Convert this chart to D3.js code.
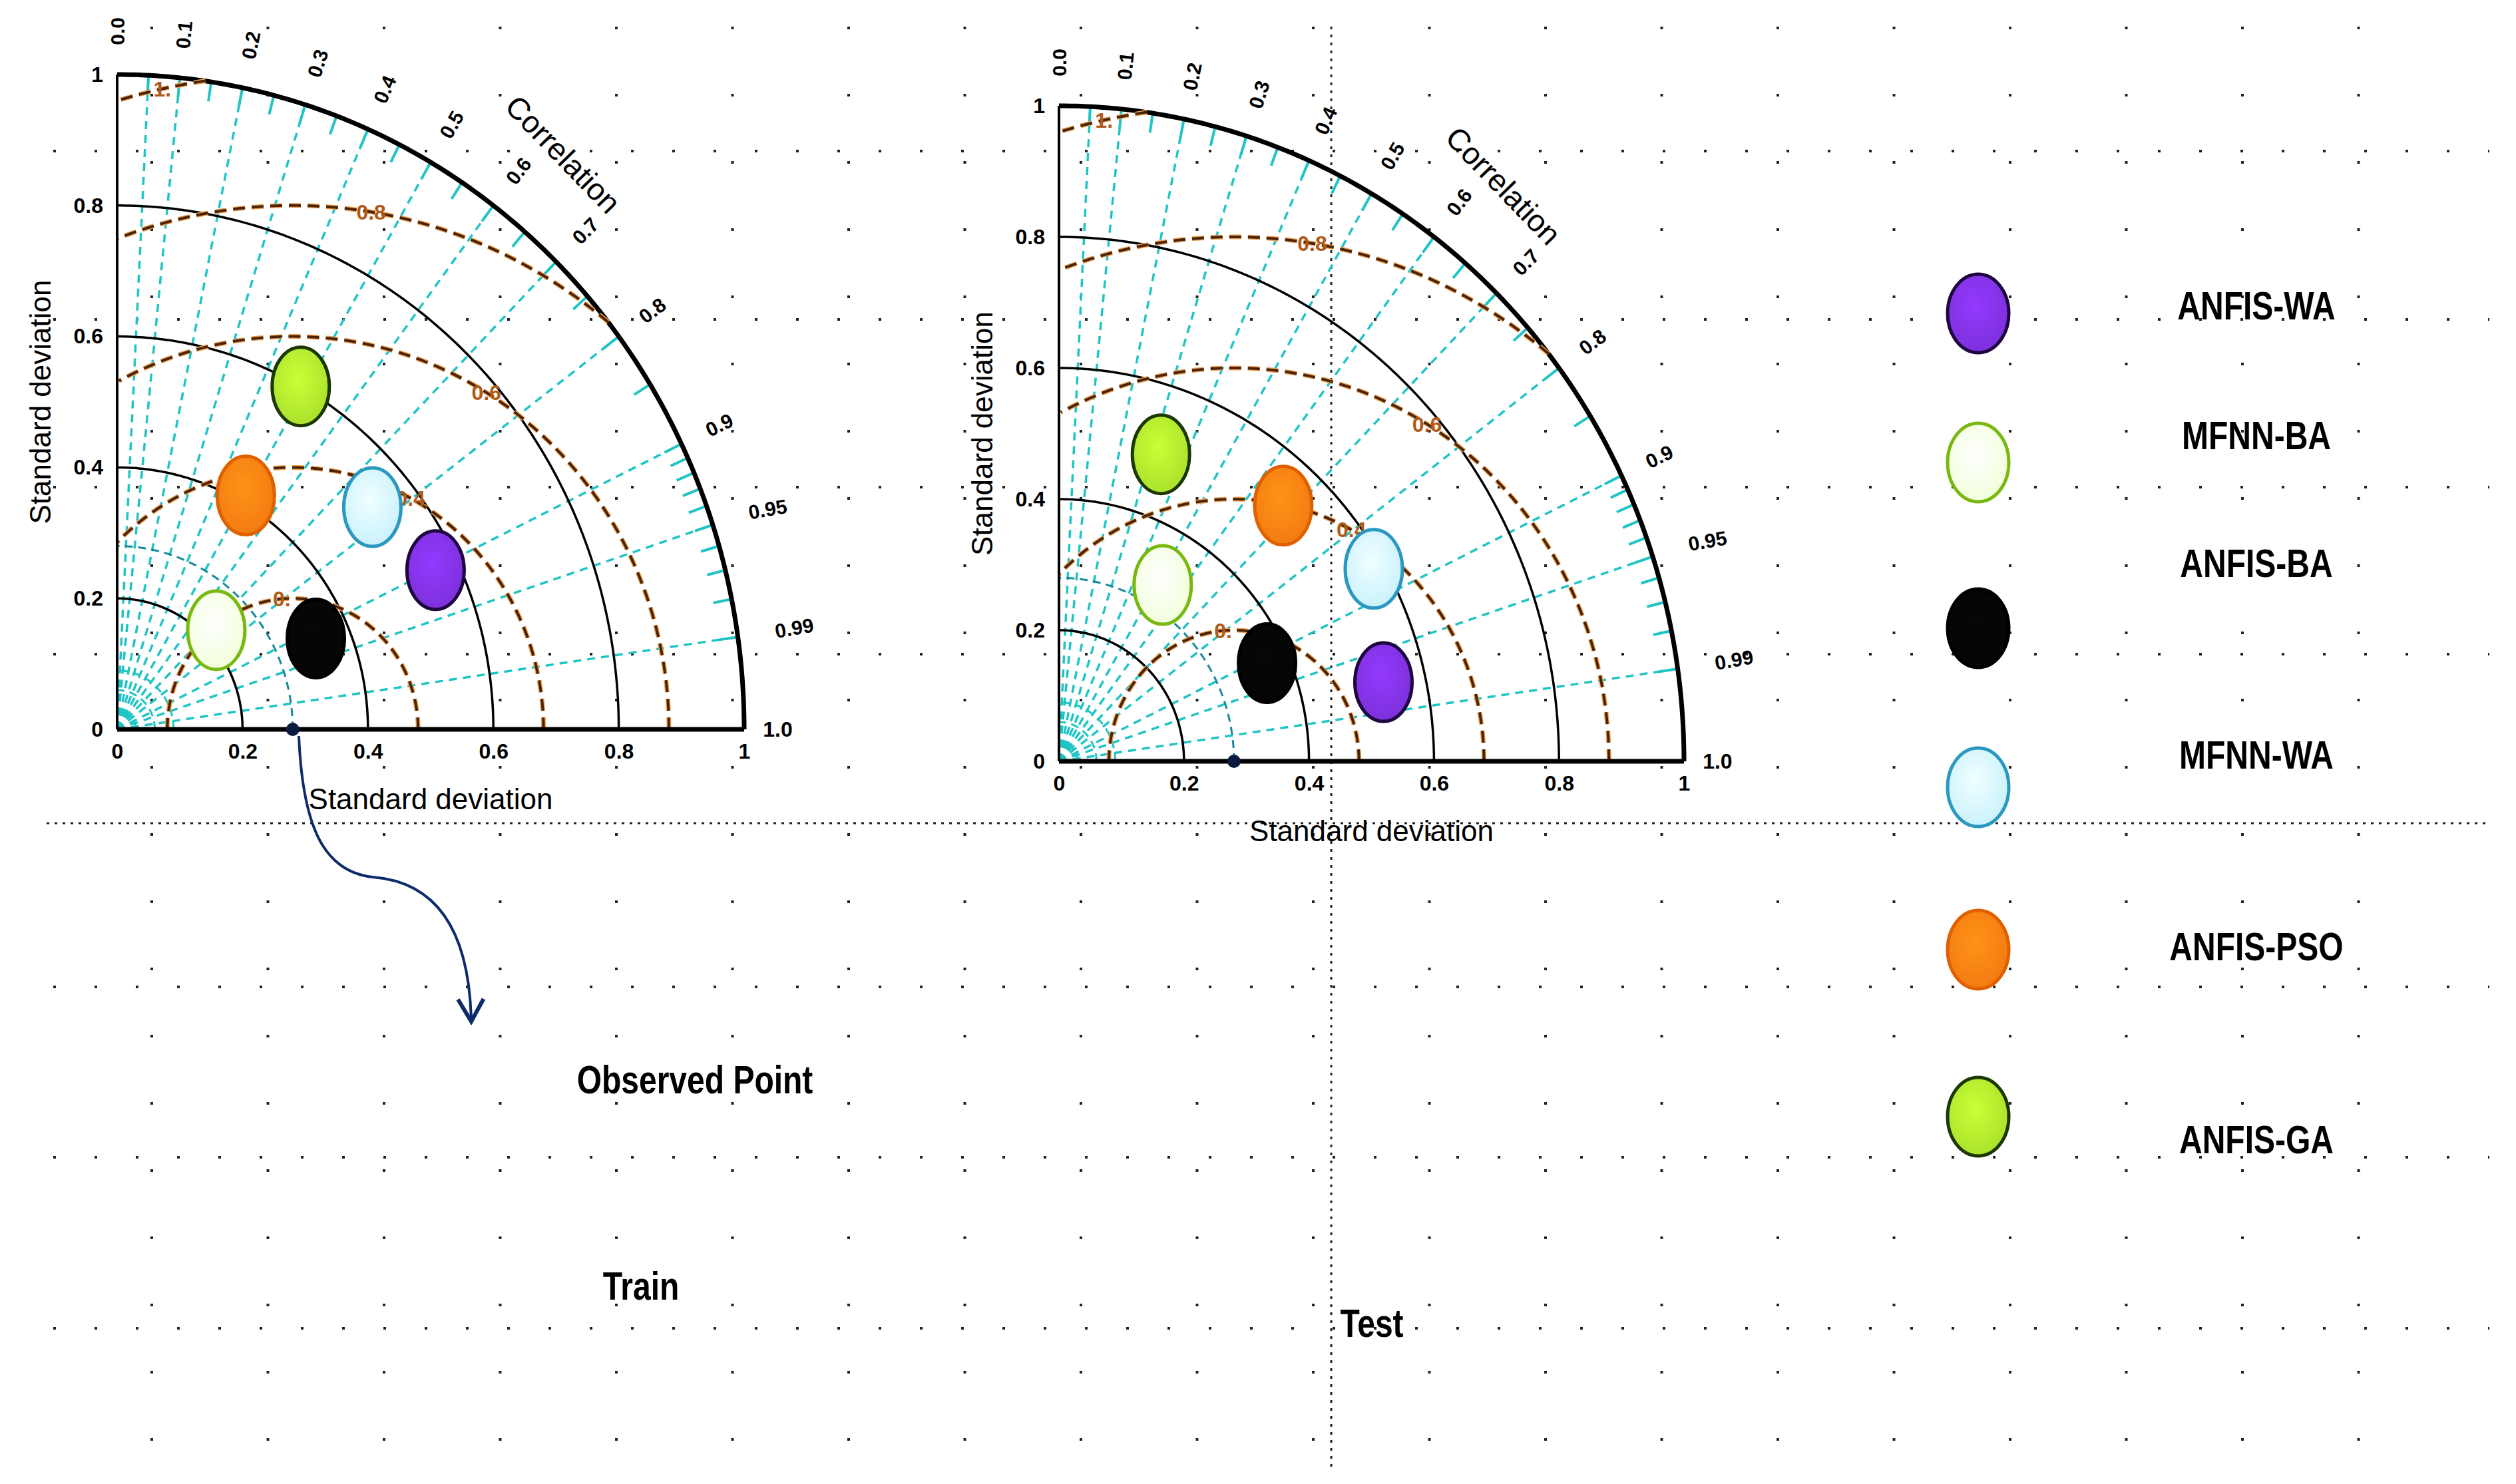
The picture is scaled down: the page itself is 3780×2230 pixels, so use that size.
<!DOCTYPE html>
<html><head><meta charset="utf-8">
<script src="https://cdn.jsdelivr.net/npm/d3@7"></script>
<style>body{margin:0;background:#fff}svg{display:block}</style>
</head><body>
<script>
var models = ['ANFIS-WA', 'MFNN-BA', 'ANFIS-BA', 'MFNN-WA', 'ANFIS-PSO', 'ANFIS-GA'];
var fills = ['#7b30d8', '#f0ffd8', '#050505', '#c8f0fc', '#f27a12', '#a8e02c'];
var strokes = ['#1e0640', '#78b810', '#000000', '#2a98c0', '#e06000', '#1c3800'];
// std and correlation per model
var trainStd = [0.563, 0.219, 0.346, 0.530, 0.412, 0.600];
var trainCorr = [0.902, 0.722, 0.916, 0.768, 0.498, 0.488];
var testStd = [0.533, 0.316, 0.365, 0.583, 0.530, 0.496];
var testCorr = [0.974, 0.525, 0.912, 0.864, 0.677, 0.329];
var observed = 0.28;
var stdTicks = [0, 0.2, 0.4, 0.6, 0.8, 1];
var corrLabels = [0.0, 0.1, 0.2, 0.3, 0.4, 0.5, 0.6, 0.7, 0.8, 0.9, 0.95, 0.99];
var corrLines = [0.05, 0.1, 0.2, 0.3, 0.4, 0.5, 0.6, 0.7, 0.8, 0.9, 0.95, 0.99];
var rmsRadii = [0.2, 0.4, 0.6, 0.8, 1.0];
var rmsLabels = ['0.', '0.4', '0.6', '0.8', '1.'];
var rmsLabelAngle = [95, 62, 59, 81, 102];

var W = 3780, H = 2230;
var svg = d3.select('body').append('svg').attr('width', W).attr('height', H);

// dotted background grid
var gx = d3.range(228, 3620, 174.5), gy = [227, 480, 732, 983, 1483, 1739, 1996];
svg.selectAll('.vg').data(gx).enter().append('line')
  .attr('x1', d => d).attr('x2', d => d).attr('y1', 40).attr('y2', 2210)
  .attr('stroke', '#222').attr('stroke-width', 4).attr('stroke-dasharray', '4 97');
svg.selectAll('.hg').data(gy).enter().append('line')
  .attr('x1', 80).attr('x2', 3740).attr('y1', d => d).attr('y2', d => d)
  .attr('stroke', '#222').attr('stroke-width', 4).attr('stroke-dasharray', '4 58');
svg.append('line').attr('x1', 70).attr('x2', 3740).attr('y1', 1237).attr('y2', 1237)
  .attr('stroke', '#222').attr('stroke-width', 3).attr('stroke-dasharray', '4 8');
svg.append('line').attr('x1', 2000).attr('x2', 2000).attr('y1', 40).attr('y2', 2210)
  .attr('stroke', '#222').attr('stroke-width', 3).attr('stroke-dasharray', '4 8');

var defs = svg.append('defs');
fills.forEach(function(c, i) {
  var g = defs.append('radialGradient').attr('id', 'g' + i).attr('cx', '45%').attr('cy', '40%').attr('r', '65%');
  g.append('stop').attr('offset', '0%').attr('stop-color', d3.color(c).brighter(0.5));
  g.append('stop').attr('offset', '100%').attr('stop-color', c);
});

function taylor(ox, oy, rx, ry, stds, corrs) {
  var x = d3.scaleLinear().domain([0, 1]).range([0, rx]);
  var y = d3.scaleLinear().domain([0, 1]).range([0, -ry]);
  var g = svg.append('g').attr('transform', 'translate(' + ox + ',' + oy + ')');
  var line = d3.line().x(d => x(d[0])).y(d => y(d[1]));
  function arc(r, cx) {
    return d3.range(0, 181, 0.5).map(function(a) {
      var t = a * Math.PI / 180; return [cx + r * Math.cos(t), r * Math.sin(t)];
    }).filter(p => p[0] >= -0.001 && p[1] >= -0.001 && Math.hypot(p[0], p[1]) <= 1.001);
  }
  // radial correlation lines
  corrLines.forEach(function(c) {
    var s = Math.sqrt(1 - c * c);
    g.append('path').attr('d', line([[0, 0], [c, s]])).attr('fill', 'none')
      .attr('stroke', '#1fc4c4').attr('stroke-width', 3.5).attr('stroke-dasharray', '12 9');
  });
  // outer ticks
  d3.range(0.05, 0.9, 0.05).concat(d3.range(0.9, 0.995, 0.01)).forEach(function(c) {
    var s = Math.sqrt(1 - c * c);
    g.append('path').attr('d', line([[c * 0.97, s * 0.97], [c, s]]))
      .attr('stroke', '#1fc4c4').attr('stroke-width', 4);
  });
  [0.03, 0.06, 0.09, 0.28].forEach(function(r) {
    g.append('path').attr('d', line(arc(r, 0))).attr('fill', 'none')
      .attr('stroke', r > 0.1 ? '#148a9a' : '#1fc4c4').attr('stroke-width', 3).attr('stroke-dasharray', '12 8');
  });
  // std circles
  [0.2, 0.4, 0.6, 0.8, 1].forEach(function(r) {
    g.append('path').attr('d', line(arc(r, 0))).attr('fill', 'none')
      .attr('stroke', '#000').attr('stroke-width', r === 1 ? 7 : 3.5);
  });
  // RMS arcs
  rmsRadii.forEach(function(r, i) {
    g.append('path').attr('d', line(arc(r, observed))).attr('fill', 'none')
      .attr('stroke', '#f0a050').attr('stroke-width', 7).attr('stroke-dasharray', '18 10');
    g.append('path').attr('d', line(arc(r, observed))).attr('fill', 'none')
      .attr('stroke', '#4a2408').attr('stroke-width', 4).attr('stroke-dasharray', '18 10');
    var t = rmsLabelAngle[i] * Math.PI / 180;
    g.append('text').attr('x', x(observed + r * Math.cos(t))).attr('y', y(r * Math.sin(t)))
      .attr('text-anchor', 'middle').attr('dy', '0.35em').attr('font-family', 'Liberation Sans')
      .attr('font-weight', 'bold').attr('font-size', 32).attr('fill', '#b05a18').text(rmsLabels[i]);
  });
  // axes lines
  g.append('path').attr('d', line([[0, 0], [1, 0]])).attr('stroke', '#000').attr('stroke-width', 7);
  g.append('path').attr('d', line([[0, 0], [0, 1]])).attr('stroke', '#000').attr('stroke-width', 4);
  var xa = g.append('g').attr('transform', 'translate(0,18)')
    .call(d3.axisBottom(x).tickValues(stdTicks).tickSize(0).tickFormat(d3.format('')));
  var ya = g.append('g').attr('transform', 'translate(-18,0)')
    .call(d3.axisLeft(d3.scaleLinear().domain([0, 1]).range([0, -ry])).tickValues(stdTicks).tickSize(0).tickFormat(d3.format('')));
  [xa, ya].forEach(function(a) {
    a.select('.domain').remove();
    a.selectAll('text').attr('font-family', 'Liberation Sans').attr('font-weight', 'bold')
      .attr('font-size', 32).attr('fill', '#000');
  });
  g.append('text').attr('x', x(1.03)).attr('y', 0).attr('dy', '0.35em')
    .attr('font-family', 'Liberation Sans').attr('font-weight', 'bold').attr('font-size', 32).text('1.0');
  g.append('text').attr('x', x(0.5)).attr('y', 120).attr('text-anchor', 'middle')
    .attr('font-family', 'Liberation Sans').attr('font-size', 44).text('Standard deviation');
  g.append('text').attr('transform', 'translate(-100,' + y(0.5) + ') rotate(-90)').attr('text-anchor', 'middle')
    .attr('font-family', 'Liberation Sans').attr('font-size', 44).text('Standard deviation');
  // correlation labels
  corrLabels.forEach(function(c) {
    var th = Math.acos(c), r = c > 0.9 ? 1.06 : 1.045;
    var px = x(r * c), py = y(r * Math.sin(th));
    g.append('text').attr('transform', 'translate(' + px + ',' + py + ') rotate(' + (c > 0.9 ? -10 : -th * 180 / Math.PI) + ')')
      .attr('dy', '0.35em').attr('font-family', 'Liberation Sans').attr('font-weight', 'bold')
      .attr('font-size', 30).text(c === 0 ? '0.0' : c);
  });
  var ct = 51 * Math.PI / 180;
  g.append('text').attr('transform', 'translate(' + x(1.13 * Math.cos(ct)) + ',' + y(1.13 * Math.sin(ct)) + ') rotate(46)')
    .attr('text-anchor', 'middle').attr('dy', '0.35em').attr('font-family', 'Liberation Sans')
    .attr('font-size', 46).text('Correlation');
  // observed point
  g.append('circle').attr('cx', x(observed)).attr('cy', 0).attr('r', 10).attr('fill', '#0a1a40');
  // model points
  g.selectAll('.pt').data(models).enter().append('ellipse')
    .attr('cx', (d, i) => x(stds[i] * corrs[i]))
    .attr('cy', (d, i) => y(stds[i] * Math.sqrt(1 - corrs[i] * corrs[i])))
    .attr('rx', 43).attr('ry', 59)
    .attr('fill', (d, i) => 'url(#g' + i + ')').attr('stroke', (d, i) => strokes[i]).attr('stroke-width', 5);
}

taylor(176, 1096, 942, 984, trainStd, trainCorr);
taylor(1591, 1144, 939, 985, testStd, testCorr);

// arrow from observed point
defs.append('marker').attr('id', 'arr').attr('viewBox', '0 0 20 20').attr('refX', 18).attr('refY', 10)
  .attr('markerWidth', 12).attr('markerHeight', 12).attr('orient', 'auto')
  .append('path').attr('d', 'M4,2 L18,10 L4,18').attr('fill', 'none').attr('stroke', '#0d2a6a').attr('stroke-width', 2.5);
svg.append('path').attr('d', 'M449,1106 C455,1250 490,1310 560,1318 C650,1325 705,1390 708,1535')
  .attr('fill', 'none').attr('stroke', '#0d2a6a').attr('stroke-width', 4).attr('marker-end', 'url(#arr)');

// condensed bold labels
function narrow(x, y, txt) {
  svg.append('text').attr('transform', 'translate(' + x + ',' + y + ') scale(0.8,1)')
    .attr('text-anchor', 'middle').attr('dy', '0.35em')
    .attr('font-family', 'Liberation Sans').attr('font-weight', 'bold').attr('font-size', 60).text(txt);
}
narrow(1044, 1622, 'Observed Point');
narrow(963, 1932, 'Train');
narrow(2061, 1988, 'Test');

// legend
var legY = [471, 695, 944, 1183, 1427, 1678];
var labY = [459, 654, 846, 1134, 1422, 1712];
svg.append('g').selectAll('ellipse').data(models).enter().append('ellipse')
  .attr('cx', 2972).attr('cy', (d, i) => legY[i]).attr('rx', 46).attr('ry', 59)
  .attr('fill', (d, i) => 'url(#g' + i + ')').attr('stroke', (d, i) => strokes[i]).attr('stroke-width', 5);
models.forEach(function(m, i) { narrow(3390, labY[i], m); });
</script>
</body></html>
